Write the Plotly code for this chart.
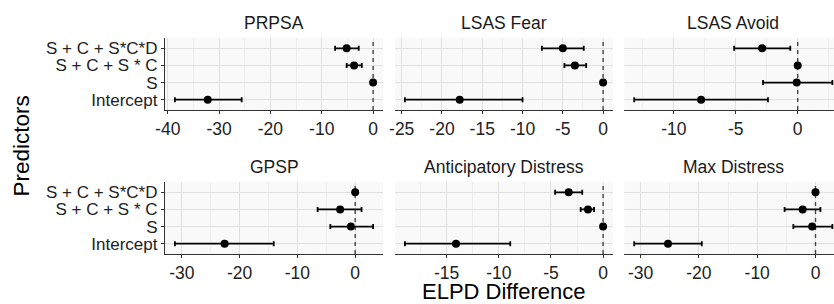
import plotly.graph_objects as go

# ---- data ----
predictors = ["Intercept", "S", "S + C + S * C", "S + C + S*C*D"]
panels = ["PRPSA", "LSAS Fear", "LSAS Avoid", "GPSP", "Anticipatory Distress", "Max Distress"]

prpsa_est = [-32.2, 0.0, -3.7, -5.15]
prpsa_lo = [-38.6, 0.0, -5.15, -7.4]
prpsa_hi = [-25.6, 0.0, -2.2, -2.8]

fear_est = [-17.8, 0.0, -3.5, -5.0]
fear_lo = [-24.6, 0.0, -4.8, -7.6]
fear_hi = [-10.0, 0.0, -2.1, -2.4]

avoid_est = [-7.8, -0.08, 0.0, -2.87]
avoid_lo = [-13.2, -2.8, 0.0, -5.13]
avoid_hi = [-2.4, 2.8, 0.0, -0.6]

gpsp_est = [-22.6, -0.75, -2.6, 0.0]
gpsp_lo = [-31.2, -4.3, -6.5, 0.0]
gpsp_hi = [-14.1, 3.1, 1.1, 0.0]

antic_est = [-14.1, 0.0, -1.45, -3.3]
antic_lo = [-19.0, 0.0, -2.15, -4.6]
antic_hi = [-8.9, 0.0, -0.87, -2.0]

maxd_est = [-25.3, -0.57, -2.2, 0.0]
maxd_lo = [-31.1, -3.8, -5.3, 0.0]
maxd_hi = [-19.5, 2.9, 0.85, 0.0]

prpsa_ticks = [-40, -30, -20, -10, 0]
fear_ticks = [-25, -20, -15, -10, -5, 0]
avoid_ticks = [-10, -5, 0]
gpsp_ticks = [-30, -20, -10, 0]
antic_ticks = [-15, -10, -5, 0]
maxd_ticks = [-30, -20, -10, 0]

series = [
    (prpsa_est, prpsa_lo, prpsa_hi, prpsa_ticks),
    (fear_est, fear_lo, fear_hi, fear_ticks),
    (avoid_est, avoid_lo, avoid_hi, avoid_ticks),
    (gpsp_est, gpsp_lo, gpsp_hi, gpsp_ticks),
    (antic_est, antic_lo, antic_hi, antic_ticks),
    (maxd_est, maxd_lo, maxd_hi, maxd_ticks),
]

# ---- layout geometry (pixels) ----
W, H = 834, 304
col_x0 = [165, 395, 624.3]
PW = 218
row_top = [38, 182]
PH = 72

FONT = "Liberation Sans, Arial, Helvetica, sans-serif"
TICK_SIZE = 17.5
YTICK_SIZE = 17
fig = go.Figure()
layout = dict(
    template="none",
    width=W, height=H, margin=dict(l=0, r=0, t=0, b=0, pad=0, autoexpand=False),
    paper_bgcolor="white", plot_bgcolor="#F9F9F9",
    showlegend=False, font=dict(family=FONT, size=16, color="#222"),
)
annotations = []
ypos = list(range(len(predictors)))
ylo, yhi = -0.6, len(predictors) - 1 + 0.6

for i, (name, (est, lo, hi, ticks)) in enumerate(zip(panels, series)):
    r, c = divmod(i, 3)
    idx = "" if i == 0 else str(i + 1)
    xa, ya = "x" + idx, "y" + idx
    dmin = min(min(lo), 0)
    dmax = max(max(hi), 0)
    w = dmax - dmin
    rlo, rhi = dmin - 0.05 * w, dmax + 0.05 * w
    x0 = col_x0[c]
    x1 = x0 + PW
    if x1 > W:
        rhi = rlo + (rhi - rlo) * (W - x0) / PW
        x1 = W
    y0 = H - (row_top[r] + PH)
    y1 = H - row_top[r]

    # reference line at zero difference
    fig.add_trace(go.Scatter(
        x=[0, 0], y=[ylo, yhi], mode="lines", xaxis=xa, yaxis=ya,
        line=dict(color="#444", width=1.4, dash="4px,4px"), hoverinfo="skip",
    ))
    fig.add_trace(go.Scatter(
        x=est, y=ypos, mode="markers", xaxis=xa, yaxis=ya,
        marker=dict(color="black", size=8, line=dict(width=0)),
        error_x=dict(type="data", symmetric=False,
                     array=[h - e for h, e in zip(hi, est)],
                     arrayminus=[e - l for e, l in zip(est, lo)],
                     color="black", thickness=1.8, width=2.5),
        cliponaxis=True,
    ))
    step = ticks[1] - ticks[0]
    layout["xaxis" + idx] = dict(
        domain=[x0 / W, x1 / W], anchor=ya, range=[rlo, rhi], automargin=False,
        tickmode="array", tickvals=ticks, ticktext=[str(t) for t in ticks],
        showgrid=True, gridcolor="#E0E0E0", gridwidth=1,
        minor=dict(tickmode="linear", tick0=0, dtick=step / 2, showgrid=True,
                   gridcolor="#EDEDED", gridwidth=0.8),
        zeroline=False, showline=True, linecolor="#333", linewidth=1.2,
        ticks="outside", ticklen=3, tickcolor="#333", tickwidth=1,
        tickfont=dict(size=TICK_SIZE, color="#222"), fixedrange=True,
    )
    layout["yaxis" + idx] = dict(
        domain=[y0 / H, y1 / H], anchor=xa, automargin=False, range=[ylo, yhi],
        tickmode="array", tickvals=ypos, ticktext=predictors,
        showgrid=True, gridcolor="#E0E0E0", gridwidth=1, zeroline=False,
        showline=(c == 0), linecolor="#333", linewidth=1.2,
        ticks="outside" if c == 0 else "", ticklen=3, tickcolor="#333",
        showticklabels=(c == 0), tickfont=dict(size=YTICK_SIZE, color="#222"),
        fixedrange=True,
    )
    annotations.append(dict(text=name, x=(x0 + PW / 2) / W, y=1 - (row_top[r] - 15.5) / H,
                            xref="paper", yref="paper", showarrow=False,
                            xanchor="center", yanchor="middle",
                            font=dict(size=TICK_SIZE, color="#1a1a1a")))

annotations.append(dict(text="Predictors", x=20.5 / W, y=1 - 146 / H, xref="paper", yref="paper",
                        showarrow=False, textangle=-90, xanchor="center", yanchor="middle",
                        font=dict(size=22.5, color="black")))
annotations.append(dict(text="ELPD Difference", x=503.5 / W, y=1 - 291 / H, xref="paper", yref="paper",
                        showarrow=False, xanchor="center", yanchor="middle",
                        font=dict(size=22, color="black")))

layout["annotations"] = annotations
fig.update_layout(**layout)
fig.write_html("out.html", config={"displayModeBar": False},
               post_script="document.body.style.margin='0';document.body.style.padding='0';"
                           "document.body.style.overflow='hidden';")
